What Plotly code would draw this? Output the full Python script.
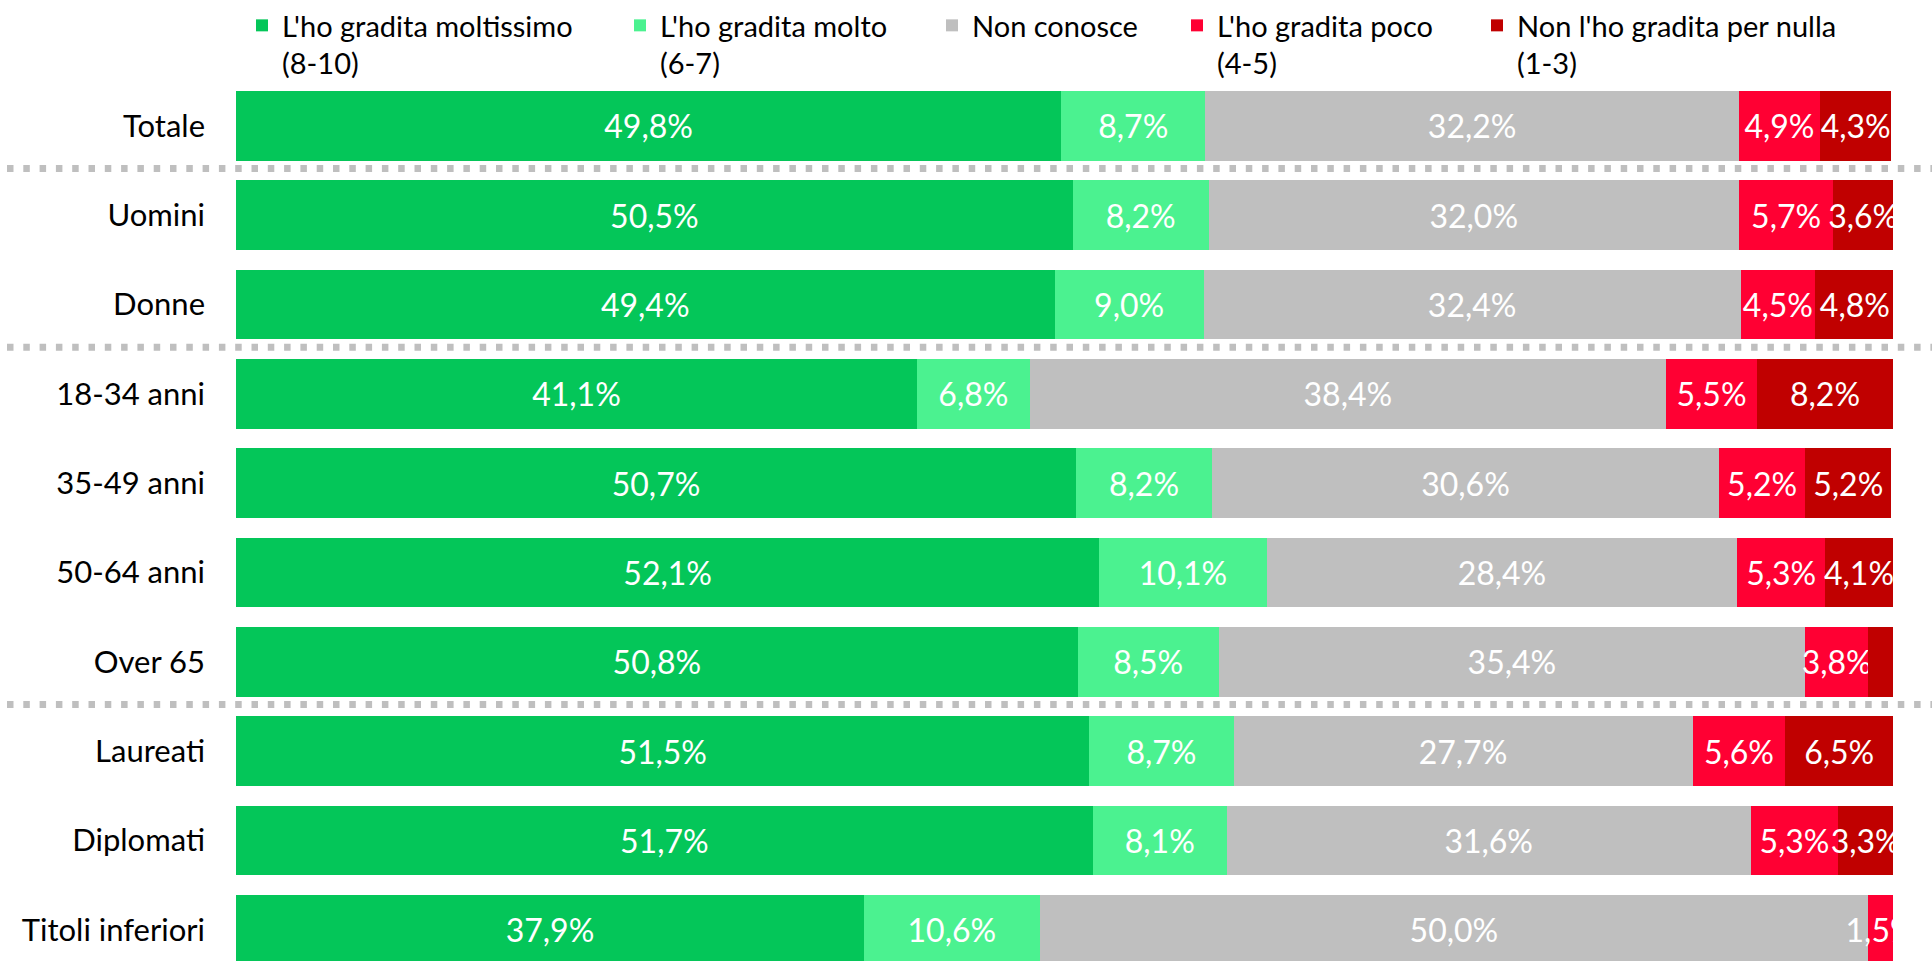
import plotly.graph_objects as go

categories = ["Totale", "Uomini", "Donne", "18-34 anni", "35-49 anni", "50-64 anni",
              "Over 65", "Laureati", "Diplomati", "Titoli inferiori"]
series_names = ["L'ho gradita moltissimo<br>(8-10)", "L'ho gradita molto<br>(6-7)", "Non conosce",
                "L'ho gradita poco<br>(4-5)", "Non l'ho gradita per nulla<br>(1-3)"]
moltissimo = [49.8, 50.5, 49.4, 41.1, 50.7, 52.1, 50.8, 51.5, 51.7, 37.9]
molto = [8.7, 8.2, 9.0, 6.8, 8.2, 10.1, 8.5, 8.7, 8.1, 10.6]
non_conosce = [32.2, 32.0, 32.4, 38.4, 30.6, 28.4, 35.4, 27.7, 31.6, 50.0]
poco = [4.9, 5.7, 4.5, 5.5, 5.2, 5.3, 3.8, 5.6, 5.3, 1.5]
per_nulla = [4.3, 3.6, 4.8, 8.2, 5.2, 4.1, 1.5, 6.5, 3.3, 0.0]
series_values = [moltissimo, molto, non_conosce, poco, per_nulla]
colors = ["#04C659", "#4BF290", "#BFBFBF", "#FF0033", "#C00000"]
# labels not printed in the original chart (series index, category)
hidden_labels = {(4, "Over 65")}
separators_after = ["Totale", "Donne", "Over 65"]

W, H = 1932, 961
ML, MR, MT, MB = 236, 39, 81, 0
PW = W - ML - MR
PH = H - MT - MB
FONT = "Lato, Carlito, Open Sans, sans-serif"

def fmt(v):
    return f"{v:.1f}".replace(".", ",") + "%"

fig = go.Figure()
legend_ids = ["legend", "legend2", "legend3", "legend4", "legend5"]
for i, (name, vals, col) in enumerate(zip(series_names, series_values, colors)):
    texts = ["" if (v == 0 or (i, c) in hidden_labels) else fmt(v) for v, c in zip(vals, categories)]
    fig.add_trace(go.Bar(
        y=categories, x=vals, name=name, orientation="h",
        marker=dict(color=col, line=dict(width=0)),
        text=texts, textposition="inside", insidetextanchor="middle",
        constraintext="none", textangle=0,
        textfont=dict(family=FONT, size=32, color="white"),
        legend=legend_ids[i], cliponaxis=True, showlegend=True,
    ))

shapes = []
for c in separators_after:
    yv = categories.index(c) + 0.48
    shapes.append(dict(type="line", xref="paper", yref="y",
                       x0=(7 - ML) / PW, x1=(W - ML) / PW, y0=yv, y1=yv,
                       line=dict(color="#BFBFBF", width=7, dash="6.5px,9.8px")))

legend_text_px = [282, 660, 972, 1217, 1517]
legend_top_px = 0
layout_legends = {}
for lid, tx in zip(legend_ids, legend_text_px):
    layout_legends[lid] = dict(
        x=(tx - 40) / W, xanchor="left", xref="container",
        y=1 - legend_top_px / H, yanchor="top", yref="container",
        font=dict(family=FONT, size=29, color="black"),
        bgcolor="rgba(0,0,0,0)", valign="top", orientation="h",
        itemclick=False, itemdoubleclick=False,
    )

fig.update_layout(
    width=W, height=H, barmode="stack", bargap=0.22, showlegend=True,
    margin=dict(l=ML, r=MR, t=MT, b=MB, pad=0, autoexpand=False),
    paper_bgcolor="white", plot_bgcolor="white",
    xaxis=dict(range=[0, 100], visible=False, showgrid=False, zeroline=False,
               fixedrange=True, automargin=False),
    yaxis=dict(range=[9.35, -0.5], showgrid=False, zeroline=False, showline=False,
               ticks="", ticklabelstandoff=30, automargin=False,
               tickfont=dict(family=FONT, size=31, color="black"), fixedrange=True),
    shapes=shapes,
    **layout_legends,
)

fig.write_html("out.html", config={"displayModeBar": False},
               post_script="document.body.style.margin='0';document.body.style.overflow='hidden';")
